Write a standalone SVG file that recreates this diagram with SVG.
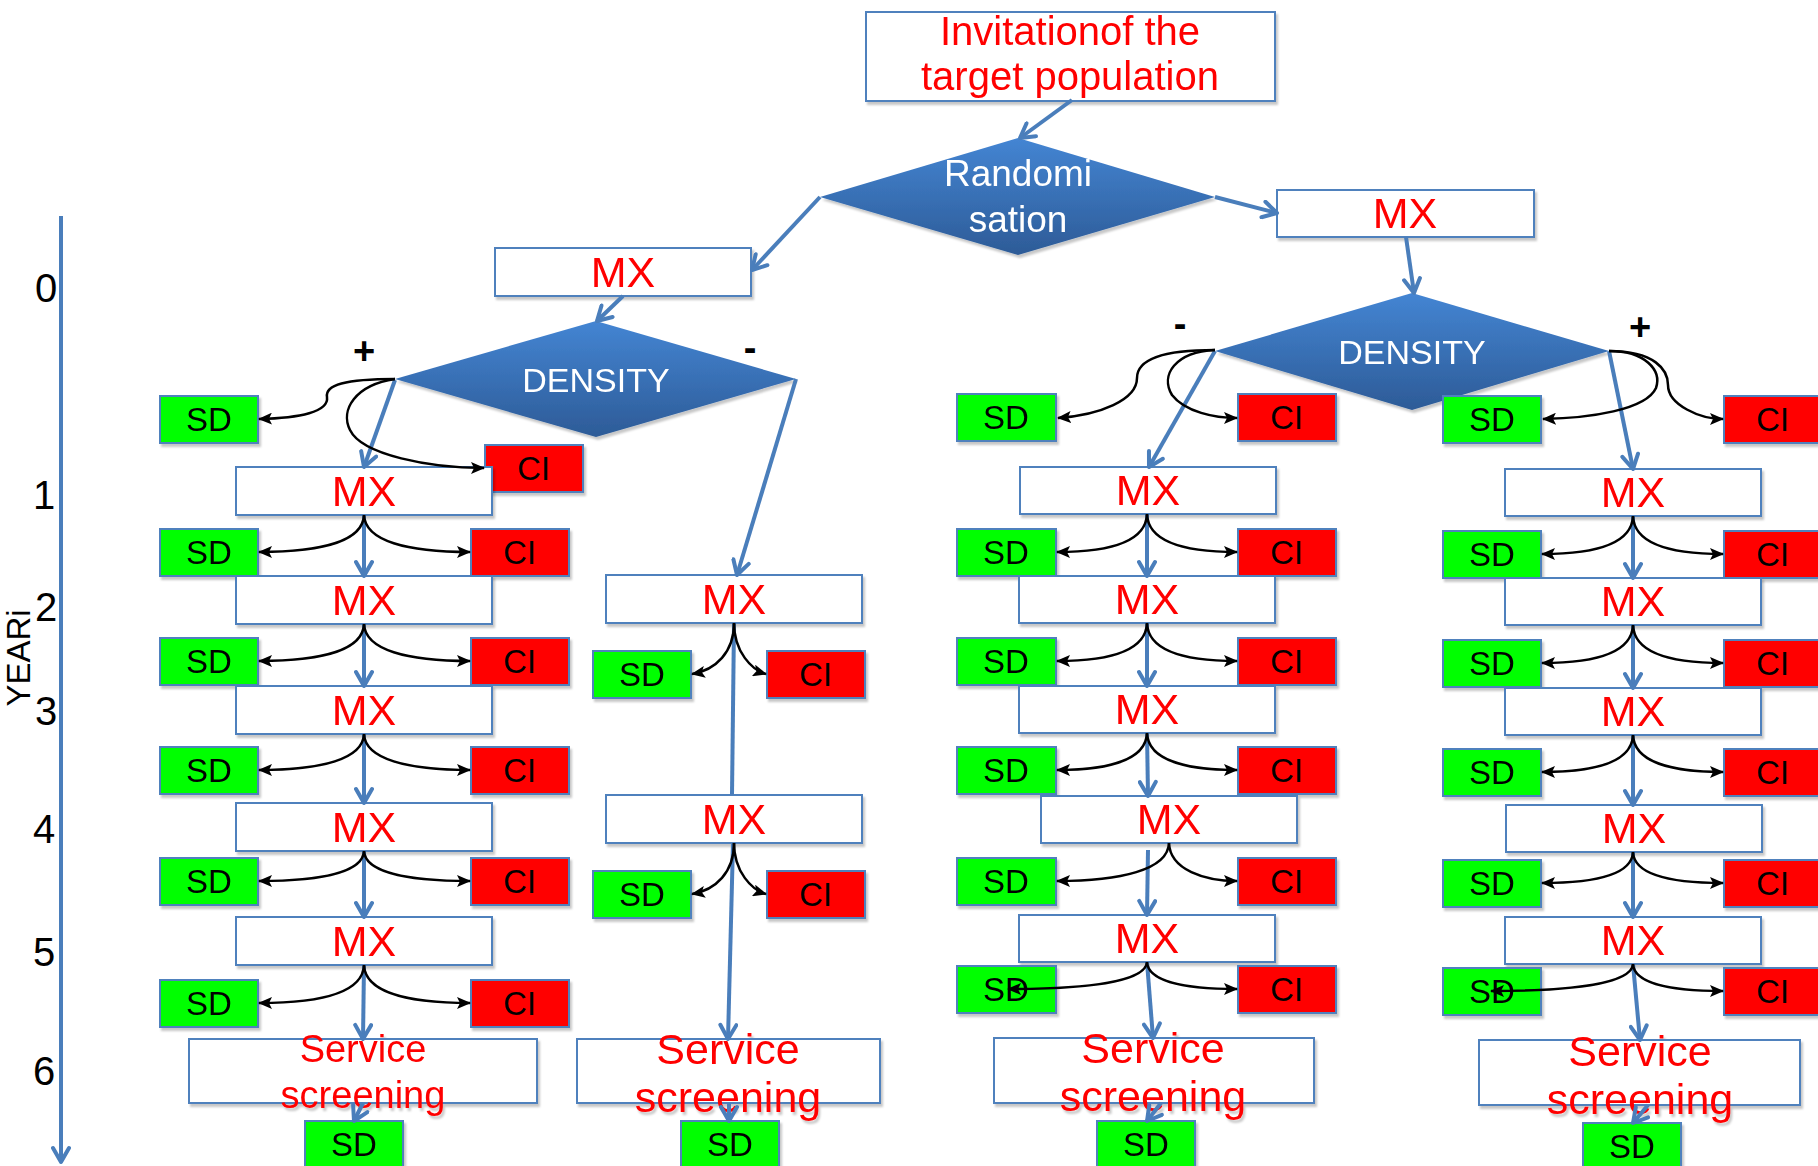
<svg xmlns="http://www.w3.org/2000/svg" width="1818" height="1166" viewBox="0 0 1818 1166">
<defs>
<linearGradient id="dg" x1="0" y1="0" x2="0" y2="1"><stop offset="0" stop-color="#4485d3"/><stop offset="1" stop-color="#2d5b97"/></linearGradient>
<filter id="sh" x="-10%" y="-10%" width="125%" height="140%"><feDropShadow dx="2" dy="3" stdDeviation="0.8" flood-color="#000" flood-opacity="0.22"/></filter>
<marker id="ba" viewBox="0 0 20 20" refX="17" refY="10" markerWidth="20" markerHeight="20" markerUnits="userSpaceOnUse" orient="auto"><path d="M3,2 L17,10 L3,18" fill="none" stroke="#4a7ebb" stroke-width="4" stroke-linecap="round" stroke-linejoin="round"/></marker>
<marker id="ka" viewBox="0 0 14 12" refX="13" refY="6" markerWidth="14" markerHeight="12" markerUnits="userSpaceOnUse" orient="auto"><path d="M0,0 L14,6 L0,12 L3,6 z" fill="#000"/></marker>
</defs>
<style>
text{font-family:'Liberation Sans',Arial,sans-serif;text-anchor:middle}
.box{stroke:#4f81bd;stroke-width:2}
.w{fill:#fff}
.g{fill:#00ff00}
.r{fill:#ff0000}
.node{filter:url(#sh)}
.mx{fill:#ff0000;font-size:43px}
.k{fill:#000;font-size:33px}
.ss{fill:#ff0000;font-size:43px}
.ssa{fill:#ff0000;font-size:38px}
.inv{fill:#ff0000;font-size:40px}
.dia{fill:url(#dg)}
.wt{fill:#fff}
.lbl{fill:#000;font-size:38px;font-weight:bold}
.ax{fill:#000;font-size:40px}
.blue{stroke:#4a7ebb;stroke-width:4;fill:none;marker-end:url(#ba)}
.bl0{stroke:#4a7ebb;stroke-width:4;fill:none}
.blk{stroke:#000;stroke-width:2.5;fill:none;marker-end:url(#ka)}
</style>
<rect width="1818" height="1166" fill="#fff"/>

<!-- axis -->
<g id="axis">
<line class="blue" x1="61" y1="216" x2="61" y2="1162"/>
<text class="ax" x="46" y="302">0</text>
<text class="ax" x="44" y="509">1</text>
<text class="ax" x="46" y="621">2</text>
<text class="ax" x="46" y="725">3</text>
<text class="ax" x="44" y="843">4</text>
<text class="ax" x="44" y="966">5</text>
<text class="ax" x="44" y="1085">6</text>
<text class="ax" transform="translate(30,658) rotate(-90)" x="0" y="0" style="font-size:33px">YEARi</text>
</g>

<!-- top nodes -->
<g id="invitation" class="node"><rect class="box w" x="866" y="12" width="409" height="89"/><text class="inv" x="1070" y="45">Invitationof the</text><text class="inv" x="1070" y="90">target population</text></g>
<g id="randomisation" class="node"><polygon class="dia" points="820,197 1018,138 1215,197 1018,255"/><text class="wt" x="1018" y="186" style="font-size:37px">Randomi</text><text class="wt" x="1018" y="232" style="font-size:37px">sation</text></g>
<g id="mx-left0" class="node"><rect class="box w" x="495" y="248" width="256" height="48"/><text class="mx" x="623" y="287">MX</text></g>
<g id="mx-right0" class="node"><rect class="box w" x="1277" y="190" width="257" height="47"/><text class="mx" x="1405" y="228">MX</text></g>
<g id="density-left" class="node"><polygon class="dia" points="395,379 596,321 796,379 596,437"/><text class="wt" x="596" y="392" style="font-size:34px">DENSITY</text></g>
<g id="density-right" class="node"><polygon class="dia" points="1215,351 1412,293 1609,351 1412,410"/><text class="wt" x="1412" y="364" style="font-size:34px">DENSITY</text></g>
<g id="labels">
<text class="lbl" x="364" y="364">+</text>
<text class="lbl" x="750" y="361">-</text>
<text class="lbl" x="1180" y="337">-</text>
<text class="lbl" x="1640" y="340">+</text>
</g>

<!-- column A -->
<g id="a-sd0" class="node"><rect class="box g" x="160" y="396" width="98" height="47"/><text class="k" x="209" y="431">SD</text></g>
<g id="a-ci0" class="node"><rect class="box r" x="485" y="445" width="98" height="47"/><text class="k" x="534" y="480">CI</text></g>
<g id="a-mx1" class="node"><rect class="box w" x="236" y="467" width="256" height="48"/><text class="mx" x="364" y="506">MX</text></g>
<g id="a-sd1" class="node"><rect class="box g" x="160" y="529" width="98" height="47"/><text class="k" x="209" y="564">SD</text></g>
<g id="a-ci1" class="node"><rect class="box r" x="471" y="529" width="98" height="47"/><text class="k" x="520" y="564">CI</text></g>
<g id="a-mx2" class="node"><rect class="box w" x="236" y="576" width="256" height="48"/><text class="mx" x="364" y="615">MX</text></g>
<g id="a-sd2" class="node"><rect class="box g" x="160" y="638" width="98" height="47"/><text class="k" x="209" y="673">SD</text></g>
<g id="a-ci2" class="node"><rect class="box r" x="471" y="638" width="98" height="47"/><text class="k" x="520" y="673">CI</text></g>
<g id="a-mx3" class="node"><rect class="box w" x="236" y="686" width="256" height="48"/><text class="mx" x="364" y="725">MX</text></g>
<g id="a-sd3" class="node"><rect class="box g" x="160" y="747" width="98" height="47"/><text class="k" x="209" y="782">SD</text></g>
<g id="a-ci3" class="node"><rect class="box r" x="471" y="747" width="98" height="47"/><text class="k" x="520" y="782">CI</text></g>
<g id="a-mx4" class="node"><rect class="box w" x="236" y="803" width="256" height="48"/><text class="mx" x="364" y="842">MX</text></g>
<g id="a-sd4" class="node"><rect class="box g" x="160" y="858" width="98" height="47"/><text class="k" x="209" y="893">SD</text></g>
<g id="a-ci4" class="node"><rect class="box r" x="471" y="858" width="98" height="47"/><text class="k" x="520" y="893">CI</text></g>
<g id="a-mx5" class="node"><rect class="box w" x="236" y="917" width="256" height="48"/><text class="mx" x="364" y="956">MX</text></g>
<g id="a-sd5" class="node"><rect class="box g" x="160" y="980" width="98" height="47"/><text class="k" x="209" y="1015">SD</text></g>
<g id="a-ci5" class="node"><rect class="box r" x="471" y="980" width="98" height="47"/><text class="k" x="520" y="1015">CI</text></g>
<g id="a-service" class="node"><rect class="box w" x="189" y="1039" width="348" height="64"/><text class="ssa" x="363" y="1062">Service</text><text class="ssa" x="363" y="1108">screening</text></g>
<g id="a-sdf" class="node"><rect class="box g" x="305" y="1121" width="98" height="47"/><text class="k" x="354" y="1156">SD</text></g>

<!-- column B -->
<g id="b-mx1" class="node"><rect class="box w" x="606" y="575" width="256" height="48"/><text class="mx" x="734" y="614">MX</text></g>
<g id="b-sd1" class="node"><rect class="box g" x="593" y="651" width="98" height="47"/><text class="k" x="642" y="686">SD</text></g>
<g id="b-ci1" class="node"><rect class="box r" x="767" y="651" width="98" height="47"/><text class="k" x="816" y="686">CI</text></g>
<g id="b-mx2" class="node"><rect class="box w" x="606" y="795" width="256" height="48"/><text class="mx" x="734" y="834">MX</text></g>
<g id="b-sd2" class="node"><rect class="box g" x="593" y="871" width="98" height="47"/><text class="k" x="642" y="906">SD</text></g>
<g id="b-ci2" class="node"><rect class="box r" x="767" y="871" width="98" height="47"/><text class="k" x="816" y="906">CI</text></g>
<g id="b-service" class="node"><rect class="box w" x="577" y="1039" width="303" height="64"/><text class="ss" x="728" y="1064">Service</text><text class="ss" x="728" y="1112">screening</text></g>
<g id="b-sdf" class="node"><rect class="box g" x="681" y="1121" width="98" height="47"/><text class="k" x="730" y="1156">SD</text></g>

<!-- column C -->
<g id="c-sd0" class="node"><rect class="box g" x="957" y="394" width="99" height="47"/><text class="k" x="1006" y="429">SD</text></g>
<g id="c-ci0" class="node"><rect class="box r" x="1238" y="394" width="98" height="47"/><text class="k" x="1287" y="429">CI</text></g>
<g id="c-mx1" class="node"><rect class="box w" x="1020" y="467" width="256" height="47"/><text class="mx" x="1148" y="505">MX</text></g>
<g id="c-sd1" class="node"><rect class="box g" x="957" y="529" width="99" height="47"/><text class="k" x="1006" y="564">SD</text></g>
<g id="c-ci1" class="node"><rect class="box r" x="1238" y="529" width="98" height="47"/><text class="k" x="1287" y="564">CI</text></g>
<g id="c-mx2" class="node"><rect class="box w" x="1019" y="576" width="256" height="47"/><text class="mx" x="1147" y="614">MX</text></g>
<g id="c-sd2" class="node"><rect class="box g" x="957" y="638" width="99" height="47"/><text class="k" x="1006" y="673">SD</text></g>
<g id="c-ci2" class="node"><rect class="box r" x="1238" y="638" width="98" height="47"/><text class="k" x="1287" y="673">CI</text></g>
<g id="c-mx3" class="node"><rect class="box w" x="1019" y="686" width="256" height="47"/><text class="mx" x="1147" y="724">MX</text></g>
<g id="c-sd3" class="node"><rect class="box g" x="957" y="747" width="99" height="47"/><text class="k" x="1006" y="782">SD</text></g>
<g id="c-ci3" class="node"><rect class="box r" x="1238" y="747" width="98" height="47"/><text class="k" x="1287" y="782">CI</text></g>
<g id="c-mx4" class="node"><rect class="box w" x="1041" y="796" width="256" height="47"/><text class="mx" x="1169" y="834">MX</text></g>
<g id="c-sd4" class="node"><rect class="box g" x="957" y="858" width="99" height="47"/><text class="k" x="1006" y="893">SD</text></g>
<g id="c-ci4" class="node"><rect class="box r" x="1238" y="858" width="98" height="47"/><text class="k" x="1287" y="893">CI</text></g>
<g id="c-mx5" class="node"><rect class="box w" x="1019" y="915" width="256" height="47"/><text class="mx" x="1147" y="953">MX</text></g>
<g id="c-sd5" class="node"><rect class="box g" x="957" y="966" width="99" height="47"/><text class="k" x="1006" y="1001">SD</text></g>
<g id="c-ci5" class="node"><rect class="box r" x="1238" y="966" width="98" height="47"/><text class="k" x="1287" y="1001">CI</text></g>
<g id="c-service" class="node"><rect class="box w" x="994" y="1038" width="320" height="65"/><text class="ss" x="1153" y="1063">Service</text><text class="ss" x="1153" y="1111">screening</text></g>
<g id="c-sdf" class="node"><rect class="box g" x="1097" y="1121" width="98" height="47"/><text class="k" x="1146" y="1156">SD</text></g>

<!-- column D -->
<g id="d-sd0" class="node"><rect class="box g" x="1443" y="396" width="98" height="47"/><text class="k" x="1492" y="431">SD</text></g>
<g id="d-ci0" class="node"><rect class="box r" x="1724" y="396" width="98" height="47"/><text class="k" x="1773" y="431">CI</text></g>
<g id="d-mx1" class="node"><rect class="box w" x="1505" y="469" width="256" height="47"/><text class="mx" x="1633" y="507">MX</text></g>
<g id="d-sd1" class="node"><rect class="box g" x="1443" y="531" width="98" height="47"/><text class="k" x="1492" y="566">SD</text></g>
<g id="d-ci1" class="node"><rect class="box r" x="1724" y="531" width="98" height="47"/><text class="k" x="1773" y="566">CI</text></g>
<g id="d-mx2" class="node"><rect class="box w" x="1505" y="578" width="256" height="47"/><text class="mx" x="1633" y="616">MX</text></g>
<g id="d-sd2" class="node"><rect class="box g" x="1443" y="640" width="98" height="47"/><text class="k" x="1492" y="675">SD</text></g>
<g id="d-ci2" class="node"><rect class="box r" x="1724" y="640" width="98" height="47"/><text class="k" x="1773" y="675">CI</text></g>
<g id="d-mx3" class="node"><rect class="box w" x="1505" y="688" width="256" height="47"/><text class="mx" x="1633" y="726">MX</text></g>
<g id="d-sd3" class="node"><rect class="box g" x="1443" y="749" width="98" height="47"/><text class="k" x="1492" y="784">SD</text></g>
<g id="d-ci3" class="node"><rect class="box r" x="1724" y="749" width="98" height="47"/><text class="k" x="1773" y="784">CI</text></g>
<g id="d-mx4" class="node"><rect class="box w" x="1506" y="805" width="256" height="47"/><text class="mx" x="1634" y="843">MX</text></g>
<g id="d-sd4" class="node"><rect class="box g" x="1443" y="860" width="98" height="47"/><text class="k" x="1492" y="895">SD</text></g>
<g id="d-ci4" class="node"><rect class="box r" x="1724" y="860" width="98" height="47"/><text class="k" x="1773" y="895">CI</text></g>
<g id="d-mx5" class="node"><rect class="box w" x="1505" y="917" width="256" height="47"/><text class="mx" x="1633" y="955">MX</text></g>
<g id="d-sd5" class="node"><rect class="box g" x="1443" y="968" width="98" height="47"/><text class="k" x="1492" y="1003">SD</text></g>
<g id="d-ci5" class="node"><rect class="box r" x="1724" y="968" width="98" height="47"/><text class="k" x="1773" y="1003">CI</text></g>
<g id="d-service" class="node"><rect class="box w" x="1479" y="1040" width="321" height="65"/><text class="ss" x="1640" y="1066">Service</text><text class="ss" x="1640" y="1114">screening</text></g>
<g id="d-sdf" class="node"><rect class="box g" x="1583" y="1123" width="98" height="47"/><text class="k" x="1632" y="1158">SD</text></g>

<!-- connectors -->
<g id="connectors">
<line class="blue" x1="1072" y1="100" x2="1020" y2="138"/>
<line class="blue" x1="820" y1="197" x2="752" y2="270"/>
<line class="blue" x1="1215" y1="197" x2="1277" y2="213"/>
<line class="blue" x1="1406" y1="237" x2="1414" y2="293"/>
<line class="blue" x1="623" y1="296" x2="597" y2="321"/>
<line class="blue" x1="796" y1="379" x2="737" y2="575"/>
<line class="blue" x1="395" y1="380" x2="364" y2="467"/>
<line class="blue" x1="1215" y1="351" x2="1149" y2="467"/>
<line class="blue" x1="1609" y1="351" x2="1633" y2="469"/>

<path class="blk" d="M395,379 C345,379 325,385 327,397 C329,412 300,418 259,419"/>
<path class="blk" d="M395,379 C355,385 340,410 350,430 C362,455 430,468 484,468"/>
<path class="blk" d="M1215,350 C1160,350 1137,360 1137,378 C1137,400 1100,415 1058,418"/>
<path class="blk" d="M1215,350 C1175,352 1160,375 1172,395 C1185,412 1215,418 1237,418"/>
<path class="blk" d="M1609,351 C1645,351 1662,370 1656,388 C1646,410 1590,418 1543,419"/>
<path class="blk" d="M1609,351 C1655,351 1668,370 1668,385 C1668,405 1700,419 1723,419"/>

<!-- column A -->
<line class="blue" x1="364" y1="515" x2="364" y2="576"/>
<line class="blue" x1="364" y1="624" x2="364" y2="686"/>
<line class="blue" x1="364" y1="734" x2="364" y2="803"/>
<line class="blue" x1="364" y1="851" x2="364" y2="917"/>
<line class="blue" x1="364" y1="965" x2="363" y2="1039"/>
<line class="blue" x1="363" y1="1103" x2="354" y2="1121"/>
<path class="blk" d="M364,515 C363,541 322,552 259,552"/><path class="blk" d="M364,515 C365,541 407,552 470,552"/>
<path class="blk" d="M364,624 C363,650 322,661 259,661"/><path class="blk" d="M364,624 C365,650 407,661 470,661"/>
<path class="blk" d="M364,734 C363,759 322,770 259,770"/><path class="blk" d="M364,734 C365,759 407,770 470,770"/>
<path class="blk" d="M364,851 C363,872 322,881 259,881"/><path class="blk" d="M364,851 C365,872 407,881 470,881"/>
<path class="blk" d="M364,965 C363,992 322,1003 259,1003"/><path class="blk" d="M364,965 C365,992 407,1003 470,1003"/>

<!-- column B -->
<line class="bl0" x1="734" y1="623" x2="732" y2="795"/>
<line class="blue" x1="733" y1="843" x2="728" y2="1039"/>
<line class="blue" x1="729" y1="1103" x2="729" y2="1121"/>
<path class="blk" d="M734,623 C734,652 716,670 692,674"/><path class="blk" d="M734,623 C734,652 752,670 766,674"/>
<path class="blk" d="M734,843 C734,872 716,890 692,894"/><path class="blk" d="M734,843 C734,872 752,890 766,894"/>

<!-- column C -->
<line class="blue" x1="1147" y1="514" x2="1147" y2="576"/>
<line class="blue" x1="1147" y1="623" x2="1147" y2="686"/>
<line class="blue" x1="1147" y1="733" x2="1148" y2="796"/>
<line class="blue" x1="1148" y1="850" x2="1147" y2="915"/>
<line class="blue" x1="1147" y1="962" x2="1153" y2="1038"/>
<line class="blue" x1="1161" y1="1103" x2="1147" y2="1121"/>
<path class="blk" d="M1147,514 C1146,541 1111,552 1057,552"/><path class="blk" d="M1147,514 C1148,541 1183,552 1237,552"/>
<path class="blk" d="M1147,623 C1146,650 1111,661 1057,661"/><path class="blk" d="M1147,623 C1148,650 1183,661 1237,661"/>
<path class="blk" d="M1147,733 C1146,759 1111,770 1057,770"/><path class="blk" d="M1147,733 C1148,759 1183,770 1237,770"/>
<path class="blk" d="M1169,843 C1168,870 1120,881 1057,881"/><path class="blk" d="M1169,843 C1170,870 1205,881 1237,881"/>
<path class="blk" d="M1147,962 C1146,981 1090,989 1008,989"/><path class="blk" d="M1147,962 C1148,981 1183,989 1237,989"/>

<!-- column D -->
<line class="blue" x1="1633" y1="516" x2="1633" y2="578"/>
<line class="blue" x1="1633" y1="625" x2="1633" y2="688"/>
<line class="blue" x1="1633" y1="735" x2="1633" y2="805"/>
<line class="blue" x1="1633" y1="852" x2="1633" y2="917"/>
<line class="blue" x1="1633" y1="964" x2="1640" y2="1040"/>
<line class="blue" x1="1648" y1="1105" x2="1633" y2="1123"/>
<path class="blk" d="M1633,516 C1632,543 1597,554 1542,554"/><path class="blk" d="M1633,516 C1634,543 1669,554 1723,554"/>
<path class="blk" d="M1633,625 C1632,652 1597,663 1542,663"/><path class="blk" d="M1633,625 C1634,652 1669,663 1723,663"/>
<path class="blk" d="M1633,735 C1632,761 1597,772 1542,772"/><path class="blk" d="M1633,735 C1634,761 1669,772 1723,772"/>
<path class="blk" d="M1633,852 C1632,874 1597,883 1542,883"/><path class="blk" d="M1633,852 C1634,874 1669,883 1723,883"/>
<path class="blk" d="M1633,964 C1632,983 1575,991 1491,991"/><path class="blk" d="M1633,964 C1634,983 1669,991 1723,991"/>
</g>
</svg>
